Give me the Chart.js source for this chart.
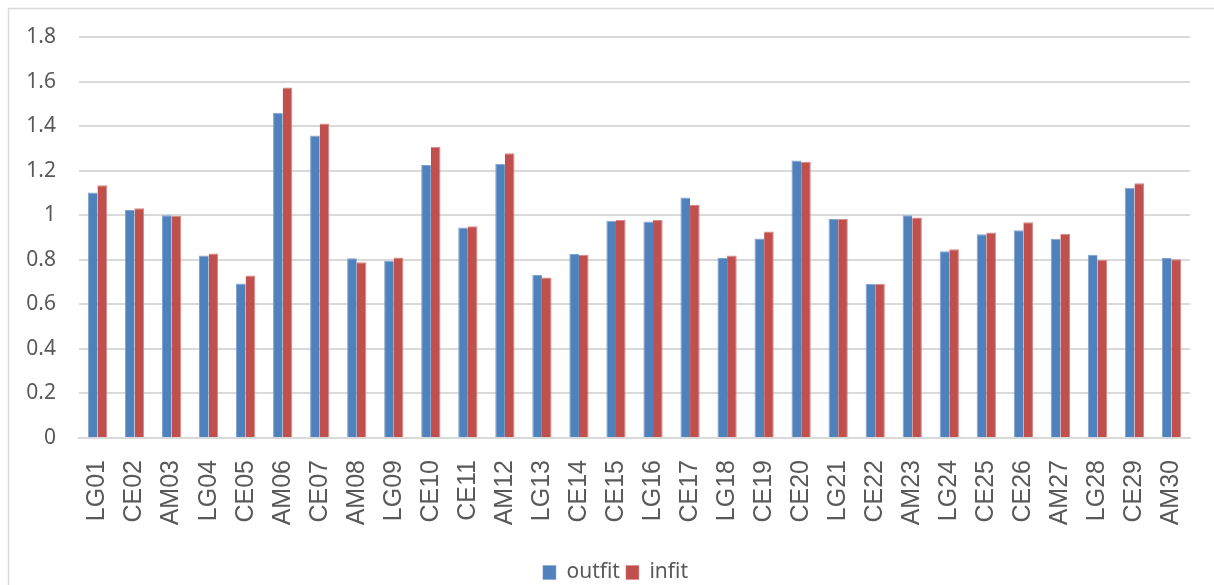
<!DOCTYPE html>
<html>
<head>
<meta charset="utf-8">
<script src="https://cdn.jsdelivr.net/npm/chart.js@4.4.0/dist/chart.umd.min.js"></script>
<style>
  html, body { margin: 0; padding: 0; background: #fff; }
  #wrap { width: 1214px; height: 585px; position: relative; }
</style>
</head>
<body>
<div id="wrap"><canvas id="mycanvas" width="1214" height="585"></canvas></div>
<script>
var items = ['LG01', 'CE02', 'AM03', 'LG04', 'CE05', 'AM06', 'CE07', 'AM08', 'LG09', 'CE10',
             'CE11', 'AM12', 'LG13', 'CE14', 'CE15', 'LG16', 'CE17', 'LG18', 'CE19', 'CE20',
             'LG21', 'CE22', 'AM23', 'LG24', 'CE25', 'CE26', 'AM27', 'LG28', 'CE29', 'AM30'];
var outfit = [1.102, 1.024, 1.000, 0.819, 0.694, 1.460, 1.358, 0.807, 0.796, 1.225,
              0.945, 1.231, 0.732, 0.826, 0.975, 0.972, 1.079, 0.808, 0.896, 1.246,
              0.983, 0.692, 1.000, 0.838, 0.915, 0.932, 0.894, 0.823, 1.123, 0.808];
var infit = [1.135, 1.031, 0.998, 0.828, 0.729, 1.573, 1.412, 0.789, 0.810, 1.307,
             0.950, 1.278, 0.720, 0.823, 0.978, 0.980, 1.046, 0.819, 0.927, 1.240,
             0.984, 0.692, 0.990, 0.847, 0.923, 0.969, 0.917, 0.799, 1.143, 0.802];
var yTicks = [0, 0.2, 0.4, 0.6, 0.8, 1, 1.2, 1.4, 1.6, 1.8];

var textColor = '#595959';
var gridColor = '#d9d9d9';

// light frame round the chart, like the spreadsheet chart box
var framePlugin = {
    id: 'frame',
    beforeDraw: function (chart) {
        var ctx = chart.ctx;
        ctx.save();
        ctx.fillStyle = '#ffffff';
        ctx.fillRect(0, 0, chart.width, chart.height);
        ctx.strokeStyle = '#d9d9d9';
        ctx.lineWidth = 1.5;
        ctx.strokeRect(8.5, 8.5, chart.width + 20, chart.height + 20);
        ctx.restore();
    },
    // legend sits a little right of centre and lower in the original
    afterLayout: function (chart) {
        if (chart.legend) {
            chart.legend.left += 16;
            chart.legend.right += 16;
            chart.legend.top += 8;
            chart.legend.bottom += 8;
        }
    }
};

var chartdata = {
    labels: items,
    datasets: [
        {
            label: 'outfit',
            backgroundColor: '#4f81bd',
            borderColor: '#7fa3cf',
            borderWidth: { top: 1, left: 1, right: 0, bottom: 0 },
            data: outfit
        },
        {
            label: 'infit',
            backgroundColor: '#c0504d',
            borderColor: '#d88683',
            borderWidth: { top: 1, left: 0, right: 1, bottom: 0 },
            data: infit
        }
    ]
};

var ctx = document.getElementById('mycanvas');

var barGraph = new Chart(ctx, {
    type: 'bar',
    data: chartdata,
    plugins: [framePlugin],
    options: {
        responsive: false,
        animation: false,
        categoryPercentage: 0.52,
        barPercentage: 1.0,
        layout: { padding: { left: 9, right: 24, top: 37, bottom: 0 } },
        plugins: {
            tooltip: { enabled: false },
            legend: {
                position: 'bottom',
                labels: {
                    color: textColor,
                    font: { family: 'Noto Sans', size: 21 },
                    boxWidth: 13,
                    boxHeight: 14,
                    padding: 6
                }
            }
        },
        scales: {
            x: {
                grid: { display: false, drawTicks: false },
                border: { display: true, color: gridColor, width: 2 },
                ticks: {
                    autoSkip: false,
                    minRotation: 90,
                    maxRotation: 90,
                    padding: 22,
                    color: textColor,
                    font: { family: 'Liberation Sans', size: 25 }
                },
                afterFit: function (scale) {
                    scale.height = 110;
                    scale.paddingLeft = 0;
                    scale.paddingRight = 0;
                }
            },
            y: {
                min: 0,
                max: 1.8,
                afterBuildTicks: function (scale) {
                    scale.ticks = yTicks.map(function (v) { return { value: v }; });
                },
                grid: { color: gridColor, lineWidth: 2, drawTicks: false },
                border: { display: false },
                ticks: {
                    padding: 23,
                    color: textColor,
                    font: { family: 'Noto Sans', size: 21 },
                    callback: function (v) { return String(Math.round(v * 10) / 10); }
                },
                afterFit: function (scale) { scale.width = 70; }
            }
        }
    }
});
</script>
</body>
</html>
